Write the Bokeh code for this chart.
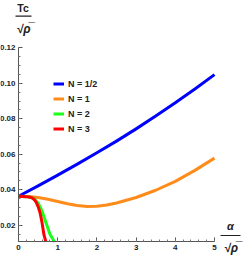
from bokeh.plotting import figure
from bokeh.models import Range1d, FixedTicker, Legend, LegendItem, Label, BoxAnnotation, PrintfTickFormatter
from bokeh.embed import file_html
from bokeh.resources import INLINE

# data
x_half = [0, 0.5, 1, 1.5, 2, 2.5, 3, 3.5, 4, 4.5, 5]
y_half = [0.0363, 0.0422, 0.0482, 0.0544, 0.0608, 0.0674, 0.0743, 0.0815, 0.0890, 0.0968, 0.1049]
x_one = [0, 0.25, 0.5, 0.75, 1, 1.25, 1.5, 1.75, 2, 2.25, 2.5, 3, 3.5, 4, 4.5, 5]
y_one = [0.0363, 0.0362, 0.0356, 0.0346, 0.0334, 0.0321, 0.0311, 0.0306, 0.0307, 0.0314, 0.0325, 0.0356, 0.0397, 0.0447, 0.0509, 0.0578]
x_two = [0, 0.2, 0.3, 0.4, 0.5, 0.6, 0.7, 0.8, 0.9, 0.92]
y_two = [0.0363, 0.0361, 0.0357, 0.0348, 0.0325, 0.028, 0.0215, 0.015, 0.0112, 0.0106]
x_three = [0, 0.2, 0.3, 0.35, 0.4, 0.45, 0.5, 0.55, 0.6, 0.65, 0.7]
y_three = [0.0363, 0.0361, 0.0358, 0.0354, 0.0345, 0.033, 0.0305, 0.027, 0.0215, 0.0145, 0.0106]
names = ["N = 1/2", "N = 1", "N = 2", "N = 3"]
colors = ["#0000FF", "#FF8C1A", "#1AFF1A", "#FF0000"]
x_ticks = [0, 1, 2, 3, 4, 5]
y_ticks = [0.02, 0.04, 0.06, 0.08, 0.10, 0.12]
x_lo, x_hi = 0, 5
y_lo, y_hi = 0.0106, 0.12

W, H = 247, 264
# pixel placement of the data box inside the canvas
X0_PX, X_SCALE = 18.0, 39.2      # px of x=0, px per unit
Y12_PX, Y_SCALE = 47.3, 1774.0   # px of y=0.12, px per unit

def dx(px):
    return (px - X0_PX) / X_SCALE

def dy(py):
    return 0.12 + (Y12_PX - py) / Y_SCALE

p = figure(width=W, height=H, output_backend="svg", toolbar_location=None,
           x_range=Range1d(dx(0), dx(W)), y_range=Range1d(dy(H), dy(0)),
           min_border_left=0, min_border_right=0, min_border_top=0, min_border_bottom=0)
p.outline_line_color = None
p.xgrid.visible = False
p.ygrid.visible = False

series = [(x_half, y_half), (x_one, y_one), (x_two, y_two), (x_three, y_three)]
rends = []
for (xs, ys), c in zip(series, colors):
    r = p.line(xs, ys, line_color=c, line_width=3, line_join="round")
    rends.append(r)

FONT = "Liberation Sans"
p.xaxis.fixed_location = y_lo
p.yaxis.fixed_location = x_lo
p.xaxis.bounds = (x_lo, x_hi)
p.yaxis.bounds = (y_lo, y_hi)
for ax in (p.xaxis[0], p.yaxis[0]):
    ax.axis_line_color = "#555555"
    ax.major_tick_line_color = "#555555"
    ax.minor_tick_line_color = "#777777"
    ax.major_tick_in = 4
    ax.major_tick_out = 0
    ax.minor_tick_in = 2
    ax.minor_tick_out = 0
    ax.major_label_text_font = FONT
    ax.major_label_text_font_style = "bold"
    ax.major_label_text_font_size = "8px"
    ax.major_label_text_color = "#222222"

p.xaxis.ticker = FixedTicker(ticks=x_ticks, minor_ticks=[i * 0.2 for i in range(26)])
p.yaxis.ticker = FixedTicker(ticks=y_ticks, minor_ticks=[0.015 + i * 0.005 for i in range(21)])
p.xaxis.major_label_standoff = 3
p.yaxis.major_label_standoff = 3
p.yaxis.formatter = PrintfTickFormatter(format="%.2f")
p.xaxis.formatter = PrintfTickFormatter(format="%d")

legend = Legend(items=[LegendItem(label=n, renderers=[r]) for n, r in zip(names, rends)],
                location=(53, 130), padding=0, margin=0, spacing=4,
                glyph_width=11, glyph_height=11, label_standoff=4,
                label_text_font=FONT, label_text_font_style="bold",
                label_text_font_size="9px", label_text_color="#222222",
                border_line_color=None, background_fill_alpha=0)
p.add_layout(legend, "center")

def lab(px, py, t, size="10px", style="bold"):
    p.add_layout(Label(x=dx(px), y=dy(py), text=t, text_align="center", text_baseline="middle",
                       text_font=FONT, text_font_style=style, text_font_size=size,
                       text_color="#222222"))

def bar(px0, px1, py):
    p.add_layout(BoxAnnotation(left=dx(px0), right=dx(px1), bottom=dy(py + 0.6), top=dy(py - 0.6),
                               fill_color="#222222", fill_alpha=1, line_color=None))

lab(22.5, 7.5, "Tc", size="10.5px")
bar(15, 31, 15.7)
lab(23, 28, "√ρ̅", size="12px", style="bold italic")
lab(230, 225, "α", size="11px", style="bold italic")
bar(220, 240, 235)
lab(230.5, 247, "√ρ̅", size="12px", style="bold italic")

open("out.html", "w").write(file_html(p, INLINE))
